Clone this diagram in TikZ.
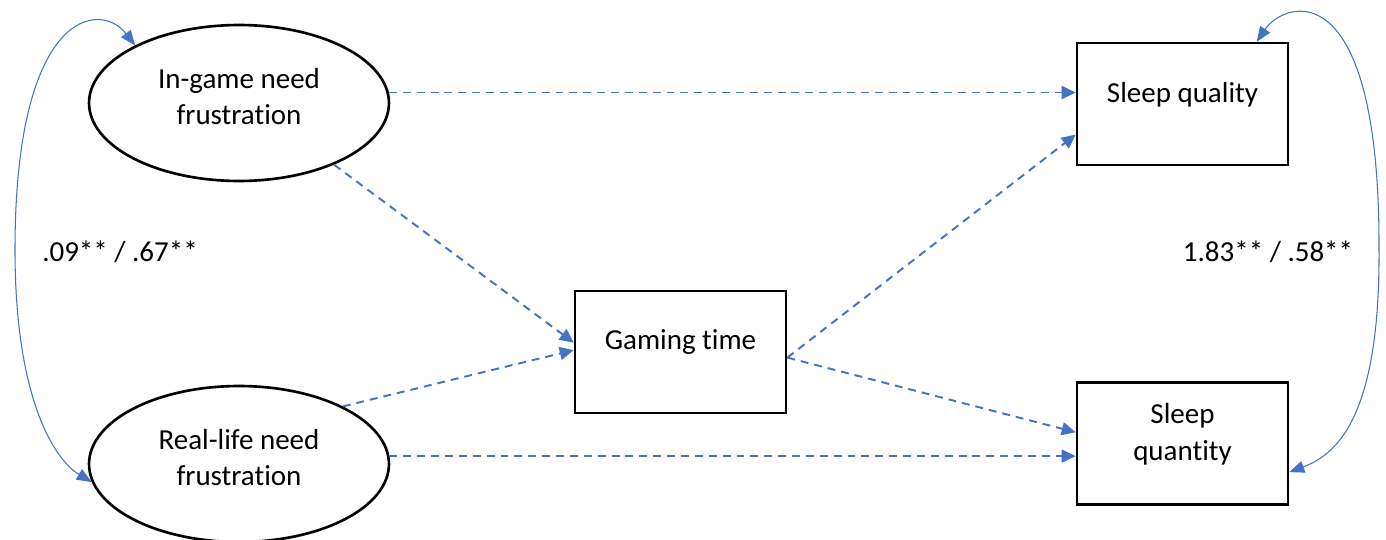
\documentclass[tikz,border=0pt]{standalone}
\usepackage{fontspec}
\setmainfont{Carlito}[Ligatures=NoCommon]
\usetikzlibrary{shapes.geometric,arrows.meta}
\definecolor{wordblue}{HTML}{4472C4}
\newcommand{\diagfont}{\fontsize{16.5}{21}\selectfont}

\begin{document}
\begin{tikzpicture}[x=0.02cm, y=-0.02cm,
	latent/.style={draw, ellipse, line width=1.5pt, minimum width=6cm, minimum height=3.12cm, inner sep=0pt},
	observed/.style={draw, rectangle, line width=1.5pt, minimum width=4.22cm, minimum height=2.44cm, inner sep=0pt},
	inside/.style={align=center, font=\diagfont, inner sep=0pt},
	effect/.style={wordblue, line width=1.1pt, dash pattern=on 4.5pt off 3.4pt, -{Triangle[length=0.28cm, width=0.26cm]}},
	cov/.style={wordblue, line width=0.6pt, {Triangle[length=0.3cm, width=0.24cm]}-{Triangle[length=0.3cm, width=0.24cm]}},
	coef/.style={font=\diagfont}]
		\useasboundingbox (0,0) rectangle (1386,540);
		\node[latent, label={[inside, yshift=0.13cm]center:{In-game need\\frustration}}] (ingame) at (239,103) {};
		\node[latent, label={[inside, yshift=0.13cm]center:{Real-life need\\frustration}}] (reallife) at (239,464) {};
		\node[observed, label={[inside, yshift=0.19cm]center:{Gaming time}}] (gaming) at (680.5,352) {};
		\node[observed, label={[inside, yshift=0.18cm]center:{Sleep quality}}] (quality) at (1182.5,104) {};
		\node[observed, label={[inside, yshift=0.19cm]center:{Sleep\\quantity}}] (quantity) at (1182.5,443.5) {};
		\node[coef] (covleft) at (120,252) {.09** / .67**};
		\node[coef] (covright) at (1268,252) {1.83** / .58**};
		\draw[effect] (ingame.4) -- (ingame.4 -| quality.west);
		\draw[effect] (ingame.-33) -- (gaming.175);
		\draw[effect] (reallife.29) -- (gaming.179);
		\draw[effect] (reallife.3) -- (reallife.3 -| quantity.west);
		\draw[effect] (gaming.-3) -- (quality.196);
		\draw[effect] (gaming.-3) -- (quantity.174);
		\draw[cov] (ingame.151) .. controls (100,0) and (15,10) .. (15,250) .. controls (15,400) and (55,460) .. (reallife.187);
		\draw[cov] (quality.40) .. controls (1285,0) and (1380,-30) .. (1379,250) .. controls (1380,420) and (1335,455) .. (quantity.-15);
	\end{tikzpicture}
\end{document}
